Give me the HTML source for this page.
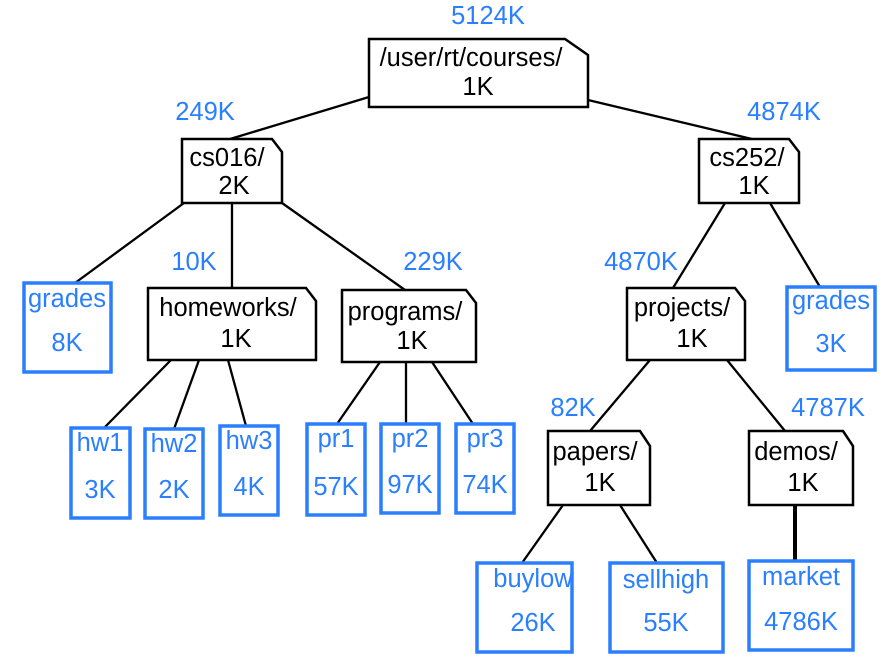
<!DOCTYPE html>
<html><head><meta charset="utf-8"><style>
html,body{margin:0;padding:0;background:#fff;}
svg{display:block;font-family:"Liberation Sans",sans-serif;}
.f{fill:#fff;stroke:#000;stroke-width:2.5;}
.b{fill:#fff;stroke:#2a7fff;stroke-width:3.5;}
.l{stroke:#000;stroke-width:2.3;}
.t{font-size:25.5px;fill:#000;text-anchor:middle;}
.u{font-size:25.5px;fill:#2a7fff;text-anchor:middle;}
</style></head><body>
<svg width="887" height="666" viewBox="0 0 887 666">
<g class="l">
<line x1="369" y1="97" x2="230" y2="139"/>
<line x1="588" y1="100" x2="752" y2="139"/>
<line x1="184" y1="203" x2="75" y2="283"/>
<line x1="232" y1="203" x2="232" y2="288"/>
<line x1="282" y1="203" x2="405" y2="290"/>
<line x1="725" y1="203" x2="673" y2="288"/>
<line x1="770" y1="203" x2="820" y2="287"/>
<line x1="171" y1="360" x2="104" y2="428"/>
<line x1="199" y1="360" x2="174" y2="429"/>
<line x1="228" y1="360" x2="246" y2="426"/>
<line x1="380" y1="362" x2="337" y2="424"/>
<line x1="406" y1="362" x2="406" y2="424"/>
<line x1="432" y1="362" x2="473" y2="424"/>
<line x1="650" y1="360" x2="590" y2="431"/>
<line x1="727" y1="360" x2="785" y2="431"/>
<line x1="563" y1="505" x2="522" y2="563"/>
<line x1="620" y1="505" x2="657" y2="563"/>
<line x1="795" y1="505" x2="795" y2="561" style="stroke-width:4"/>
</g>
<path class="f" d="M369 39H565L588 55V107H369Z"/>
<path class="f" d="M182 139H272L282 152V203H182Z"/>
<path class="f" d="M699 139H789L799 152V203H699Z"/>
<path class="f" d="M148 288H306L316 301V360H148Z"/>
<path class="f" d="M342 290H466L476 303V362H342Z"/>
<path class="f" d="M627 288H735L745 301V360H627Z"/>
<path class="f" d="M548 431H640L650 446V505H548Z"/>
<path class="f" d="M749 431H843L853 446V505H749Z"/>
<text class="t" x="471" y="66">/user/rt/courses/</text><text class="t" x="478" y="95">1K</text>
<text class="t" x="227" y="166">cs016/</text><text class="t" x="234" y="194">2K</text>
<text class="t" x="747" y="166">cs252/</text><text class="t" x="754" y="194">1K</text>
<text class="t" x="228" y="316">homeworks/</text><text class="t" x="236" y="347">1K</text>
<text class="t" x="405" y="320">programs/</text><text class="t" x="412" y="349">1K</text>
<text class="t" x="682" y="316">projects/</text><text class="t" x="692" y="347">1K</text>
<text class="t" x="595" y="460">papers/</text><text class="t" x="600" y="491">1K</text>
<text class="t" x="796" y="460">demos/</text><text class="t" x="803" y="491">1K</text>
<rect class="b" x="24" y="283" width="87" height="89"/>
<rect class="b" x="71" y="428" width="59" height="90"/>
<rect class="b" x="145" y="429" width="58" height="89"/>
<rect class="b" x="220" y="426" width="58" height="89"/>
<rect class="b" x="307" y="424" width="58" height="91"/>
<rect class="b" x="381" y="424" width="58" height="89"/>
<rect class="b" x="456" y="424" width="58" height="89"/>
<rect class="b" x="787" y="287" width="88" height="83"/>
<rect class="b" x="477" y="563" width="95" height="89"/>
<rect class="b" x="610" y="563" width="113" height="89"/>
<rect class="b" x="749" y="561" width="104" height="89"/>
<text class="u" x="67" y="307">grades</text><text class="u" x="67" y="351">8K</text>
<text class="u" x="100" y="451">hw1</text><text class="u" x="100" y="498">3K</text>
<text class="u" x="174" y="452">hw2</text><text class="u" x="174" y="498">2K</text>
<text class="u" x="249" y="449">hw3</text><text class="u" x="249" y="495">4K</text>
<text class="u" x="336" y="447">pr1</text><text class="u" x="336" y="495">57K</text>
<text class="u" x="410" y="447">pr2</text><text class="u" x="410" y="493">97K</text>
<text class="u" x="485" y="447">pr3</text><text class="u" x="485" y="493">74K</text>
<text class="u" x="831" y="309">grades</text><text class="u" x="831" y="352">3K</text>
<text class="u" x="533" y="587">buylow</text><text class="u" x="533" y="631">26K</text>
<text class="u" x="666" y="588">sellhigh</text><text class="u" x="666" y="631">55K</text>
<text class="u" x="801" y="585">market</text><text class="u" x="801" y="630">4786K</text>
<text class="u" x="488" y="24">5124K</text>
<text class="u" x="205" y="120">249K</text>
<text class="u" x="784" y="120">4874K</text>
<text class="u" x="194" y="270">10K</text>
<text class="u" x="433" y="270">229K</text>
<text class="u" x="641" y="270">4870K</text>
<text class="u" x="573" y="416">82K</text>
<text class="u" x="828" y="416">4787K</text>
</svg>
</body></html>
